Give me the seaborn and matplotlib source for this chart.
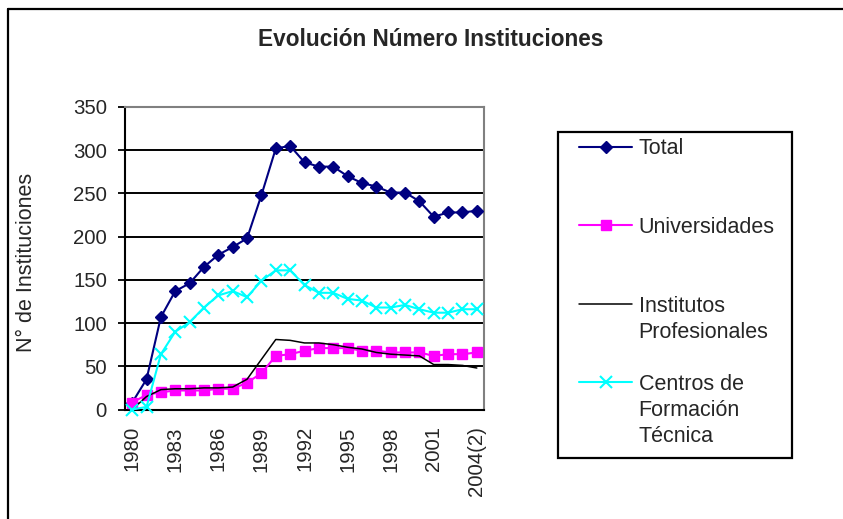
import numpy as np
import pandas as pd
import matplotlib
matplotlib.use("Agg")
import matplotlib.pyplot as plt
import seaborn as sns
from matplotlib.lines import Line2D

# ---------------- data ----------------
years = ["1980", "1981", "1982", "1983", "1984", "1985", "1986", "1987", "1988",
         "1989", "1990", "1991", "1992", "1993", "1994", "1995", "1996", "1997",
         "1998", "1999", "2000", "2001", "2002", "2003", "2004(2)"]
total = [8, 35, 107, 137, 146, 165, 179, 188, 198, 248, 302, 305, 286, 281, 281,
         270, 262, 258, 251, 251, 241, 223, 228, 228, 230]
universidades = [8, 17, 20, 22, 22, 22, 24, 24, 31, 42, 62, 64, 68, 71, 71,
                 71, 68, 68, 66, 66, 66, 62, 64, 64, 66]
institutos = [0, 15, 23, 24, 24, 25, 25, 26, 35, 58, 81, 80, 77, 77, 75,
              72, 70, 66, 64, 63, 62, 52, 52, 51, 48]
centros = [0, 3, 64, 90, 101, 118, 132, 137, 130, 149, 161, 161, 144, 135, 135,
           128, 126, 118, 118, 121, 116, 112, 112, 116, 116]
series_labels = ["Total", "Universidades", "Institutos Profesionales",
                 "Centros de Formación Técnica"]
legend_lines = [["Total"], ["Universidades"], ["Institutos", "Profesionales"],
                ["Centros de", "Formación", "Técnica"]]
title = "Evolución Número Instituciones"
ylabel = "N° de Instituciones"
yticks = [0, 50, 100, 150, 200, 250, 300, 350]

# ---------------- style ----------------
sns.set_style("white")
plt.rcParams['font.family'] = ['Liberation Sans', 'DejaVu Sans']

W, H = 843, 519
fig = plt.figure(figsize=(W / 100, H / 100), dpi=100)
fig.patch.set_facecolor("white")


def fx(px):
    return px / W


def fy(py):
    return 1 - py / H


x0, x1, ytop, ybot = 125, 484, 107, 409.5
ax = fig.add_axes([fx(x0), fy(ybot), fx(x1) - fx(x0), fy(ytop) - fy(ybot)])

styles = [
    dict(color="#000080", marker="D", markersize=6.5, linewidth=1.5,
         markeredgecolor="#000080", markeredgewidth=1.0),
    dict(color="#FF00FF", marker="s", markersize=7, linewidth=1.5,
         markeredgecolor="#FF00FF", markeredgewidth=1.0),
    dict(color="black", marker=None, linewidth=1.1),
    dict(color="#00FFFF", marker="x", markersize=8.5, linewidth=1.5,
         markeredgecolor="#00FFFF", markeredgewidth=1.5),
]
data_series = [total, universidades, institutos, centros]

df = pd.DataFrame({"Año": years})
for name, vals in zip(series_labels, data_series):
    df[name] = vals

for name, st in zip(series_labels, styles):
    sns.lineplot(data=df, x="Año", y=name, ax=ax, sort=False, errorbar=None,
                 clip_on=False, zorder=3, **st)

# axes formatting
ax.set_xlim(-0.5, len(years) - 0.5)
ax.set_ylim(0, 350)
ax.set_yticks(yticks)
ax.set_yticklabels([str(v) for v in yticks], fontsize=14.7)
major = list(range(0, len(years), 3))
ax.set_xticks(major)
ax.set_xticklabels([years[i] for i in major], rotation=90, fontsize=14.7,
                   va="top", ha="center")
ax.set_xticks(np.arange(-0.5, len(years), 1), minor=True)
ax.tick_params(axis="x", which="major", length=0, pad=12)
ax.tick_params(axis="x", which="minor", length=5, width=1.3, color="black",
               direction="out")
ax.tick_params(axis="y", which="major", length=5, width=1.3, color="black",
               direction="out", pad=8, left=True)
ax.set_xlabel("")
ax.set_ylabel(ylabel, fontsize=15.5)
ax.yaxis.set_label_coords((37 - x0) / (x1 - x0), (ybot - 262.5) / (ybot - ytop))

ax.set_axisbelow(True)
ax.yaxis.grid(True, color="black", linewidth=1.4)
ax.xaxis.grid(False)
for s in ["left", "bottom"]:
    ax.spines[s].set_color("black")
    ax.spines[s].set_linewidth(1.5)
for s in ["top", "right"]:
    ax.spines[s].set_visible(True)
    ax.spines[s].set_color("#808080")
    ax.spines[s].set_linewidth(1.5)

# title
fig.text(fx(430.5), fy(40), title, ha="center", va="center",
         fontsize=16.3, fontweight="bold")

# outer chart border (left and top visible)
fig.add_artist(Line2D([fx(8), fx(8)], [fy(9), 0], color="black", lw=1.6,
                      transform=fig.transFigure))
fig.add_artist(Line2D([fx(8), 1], [fy(9), fy(9)], color="black", lw=1.6,
                      transform=fig.transFigure))

# legend frame
fig.add_artist(plt.Rectangle((fx(558), fy(458)), fx(792) - fx(558),
                             fy(132) - fy(458), fill=False, edgecolor="black",
                             lw=1.6, transform=fig.transFigure))

# legend entries (handles aligned to first line, blank rows for spacing)
handles, labels = [], []
blank = Line2D([], [], color="none")
rows = [(0, None), (None, None), (None, None), (1, None), (None, None),
        (None, None), (2, 0), (2, 1), (None, None), (3, 0), (3, 1), (3, 2)]
for idx, line_no in rows:
    if idx is None:
        handles.append(blank)
        labels.append(" ")
    else:
        text = legend_lines[idx][line_no or 0]
        if line_no in (None, 0):
            st = styles[idx]
            h = Line2D([], [], color=st["color"], lw=st["linewidth"],
                       marker=st.get("marker"), markersize=st.get("markersize", 0),
                       markeredgewidth=st.get("markeredgewidth", 1.0),
                       markeredgecolor=st.get("markeredgecolor", st["color"]))
            handles.append(h)
        else:
            handles.append(blank)
        labels.append(text)

leg = fig.legend(handles, labels, loc="upper left",
                 bbox_to_anchor=(fx(579), fy(138.5)), frameon=False,
                 fontsize=15.5, borderpad=0, borderaxespad=0,
                 handlelength=53 / 21.5, handletextpad=0.3,
                 labelspacing=0.24, numpoints=1)

fig.savefig("out.png", dpi=100, facecolor="white")
